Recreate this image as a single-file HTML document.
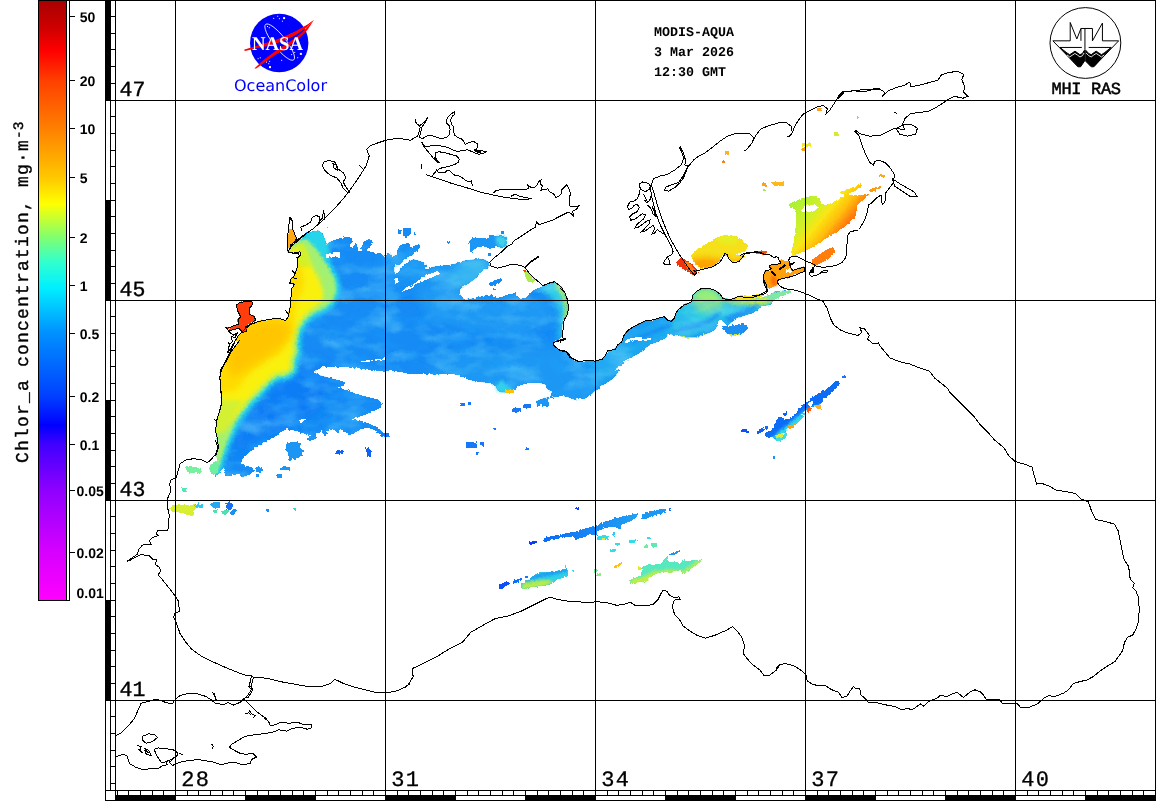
<!DOCTYPE html>
<html lang="en"><head><meta charset="utf-8"><title>MODIS-AQUA Chlor_a Black Sea</title>
<style>
html,body{margin:0;padding:0;background:#fff;}
body{width:1156px;height:801px;overflow:hidden;}
svg{display:block;}
text{font-family:"Liberation Mono",monospace;fill:#000;}
.cbl{font-family:"Liberation Sans",sans-serif;font-weight:bold;font-size:14px;}
.vlab{font-size:18px;letter-spacing:1.2px;stroke:#000;stroke-width:0.35px;}
.gl{font-size:22px;letter-spacing:1.4px;stroke:#000;stroke-width:0.3px;}
.gl2{font-size:21.5px;stroke:#000;stroke-width:0.4px;}
.hd{font-size:13.33px;font-weight:bold;}
.oc{font-family:"DejaVu Sans","Liberation Sans",sans-serif;font-size:16px;fill:#0000ff;}
.mhi{font-size:17px;stroke:#000;stroke-width:0.5px;}
</style></head>
<body>
<svg width="1156" height="801" viewBox="0 0 1156 801" shape-rendering="crispEdges" text-rendering="geometricPrecision">
<rect x="0" y="0" width="1156" height="801" fill="#fff"/>
<defs><filter id="rag" x="0" y="0" width="1156" height="801" filterUnits="userSpaceOnUse"><feTurbulence type="fractalNoise" baseFrequency="0.35" numOctaves="2" seed="7" result="n"/><feDisplacementMap in="SourceGraphic" in2="n" scale="3" xChannelSelector="R" yChannelSelector="G"/></filter></defs>
<g id="chl" filter="url(#rag)">
<defs><clipPath id="cpMain"><path d="M306.1 232.7 L310.5 231.9 L317.5 230.1 L322.7 233.6 L325.3 239.7 L326.2 245 L328.8 242.3 L333.2 240.6 L337.6 238.8 L345.5 237.1 L352.4 238 L352.4 242.3 L349 245 L352.4 247.6 L355.1 244.1 L357.7 246.7 L358.6 251.1 L362.1 252 L361.2 247.6 L363.8 241.5 L369.1 238.8 L372.6 240.6 L371.7 245 L368.2 248.5 L366.4 251.1 L373.4 252 L376.9 253.7 L380.4 252 L382.2 254.6 L385.7 256.3 L387.4 252.8 L390.9 253.7 L392.7 256.3 L397 254.6 L397.9 248.5 L401.4 244.1 L406.6 242.3 L409.3 244.1 L410.1 247.6 L414.5 245.8 L418.9 244.1 L420.3 246.7 L417.1 251.1 L411.9 254.6 L406.6 258.1 L403.1 261.6 L399.7 265.1 L394.4 265.6 L394.4 272.9 L398.8 273.3 L400.5 267.7 L404.9 264.2 L410.1 260.7 L413.6 259.3 L418.9 260.7 L424.1 262.4 L426.7 265.1 L425 269.4 L427.6 269.4 L432.9 266.8 L439.9 265.9 L448.6 265.1 L453.8 264.2 L462.6 261 L471.3 259.8 L478.3 259 L485.3 259.8 L488.8 262.4 L489.7 265.9 L487.2 269 L482.8 270.7 L479.3 273.3 L477.6 276.8 L473.2 280.3 L468 283.8 L462.7 287.3 L459.6 289.1 L460.1 294.3 L463.6 298.7 L466.2 299.9 L475 297.8 L483.7 296 L491.6 294.3 L492.4 296.9 L499.4 297.8 L509.9 294.3 L515.2 293.1 L517.8 296.9 L520.4 298.7 L525.7 297.8 L529.2 294.3 L532.7 290.8 L537.9 288.2 L543.1 286.4 L547.5 283.8 L551.9 281.5 L555.4 282.1 L559.8 285.6 L563.3 289.9 L565.9 295.2 L567.3 302.2 L568 308.3 L567.3 313.5 L565.5 317 L563.3 320.5 L562.4 324.9 L562 331.9 L562.4 336.3 L560.6 338.9 L553.6 342.4 L553.6 345 L556.3 347.6 L559.8 350.2 L565.9 351.1 L569.4 354.6 L571.1 358.1 L575.5 360 L575.9 360.2 L579.1 361.7 L587.6 360.2 L595 361.2 L602.4 359.1 L605.6 354.9 L607.7 350.6 L615.2 349.6 L617.3 345.3 L621.5 342.1 L623.7 335.8 L627.9 330.5 L634.3 326.2 L644.9 320.9 L653.4 319.9 L659.7 317.7 L664 316.7 L667.2 319.9 L671.4 321.4 L674.6 317.7 L676.3 312.4 L678.8 309.3 L684.1 305 L688.4 303.5 L691.6 301.8 L692.6 295.5 L696.9 291.2 L702.2 288 L708.5 288 L714.9 290.2 L720.2 294.4 L723 298.6 L727.6 299.7 L734 298.6 L738.2 296.5 L744.6 297.2 L752 297.6 L757.3 298.6 L763.7 297.6 L770.1 294.4 L776.4 291.2 L787.1 290.2 L790.9 291.2 L784.9 293.3 L776.4 296.5 L770.1 299.7 L773.3 301.8 L770.1 305 L761.6 306.1 L757.3 310.3 L751 313.5 L744.6 315.6 L738.2 317.7 L731.9 322 L727.6 325.6 L722.3 320.9 L718.1 322 L716 328.4 L712.8 331.5 L704.3 334.7 L695.8 337.9 L687.3 337.9 L678.8 335.8 L668.2 333.7 L666.1 337.9 L659.7 341.1 L651.2 344.3 L644.9 348.5 L638.5 353.8 L627.9 359.1 L621.5 364.4 L614.7 369.7 L620 370.3 L615.5 375.6 L611.3 379.9 L604.9 384.1 L599.6 386.2 L599.6 389.4 L595.4 390.5 L592.2 393.7 L584.8 399 L579.5 397.9 L575.2 400 L566.7 396.8 L560.4 395.8 L551.9 397.9 L547.6 396.8 L541.3 399 L536 401.1 L537 406.4 L541.3 405.3 L547.6 406.8 L549.8 405.3 L547.6 400 L550.8 395.8 L551.9 391.5 L547.6 389.4 L545.5 384.1 L539.2 383.1 L528.5 383.1 L520.1 385.2 L513.7 389.4 L505.2 392.6 L497.8 391.5 L495.6 386.2 L490.3 383.1 L479.7 382 L469.1 379.9 L460.6 375.6 L450 373.5 L435.2 374.6 L422.4 373.5 L411.8 374.6 L401.2 372.4 L390.6 370.3 L380 371.4 L361 368.6 L339.8 366.5 L322.8 367.2 L313.2 371.4 L318.5 375 L329.2 377.8 L339.8 380.3 L345.1 382.4 L344 385.6 L337.6 387.7 L346.1 389.9 L356.7 394.1 L367.3 396.9 L378 399.4 L382.2 403.7 L380.1 407.9 L371.6 412.1 L361 416.4 L351.4 419.6 L361 420.6 L369.5 423.8 L376.9 427 L382.2 432.3 L388.6 433.4 L388.6 436.6 L382.2 436.6 L379 433.4 L373.7 429.1 L367.3 428.1 L361 429.1 L354.6 433.4 L348.2 435.5 L347.2 432.3 L339.8 429.1 L337.6 433.4 L333.4 429.1 L327 431.2 L326 436.6 L321.7 431.2 L316.4 433.4 L316.4 438.7 L310.1 440.8 L305.8 438.7 L310.1 436.6 L305.8 434.4 L299.4 432.3 L293.1 430.2 L286.7 429.1 L280.3 432.3 L274 437.6 L265.5 441.9 L257 446.1 L250.6 451.4 L244.3 456.7 L240 462 L246.4 466.3 L252.8 467.3 L253.8 471.6 L248.5 474.7 L243.2 477.9 L237.9 473.7 L231.5 475.8 L225.2 475.8 L224.7 470.5 L223.1 467.3 L220.9 472.6 L215.6 475.8 L211.4 473.7 L209.3 468.4 L211.4 463.1 L215.6 462 L217.7 458.8 L215.6 455.6 L218.4 448.2 L217.7 439.7 L215.6 431.2 L216.7 420.6 L219.9 410 L222 401.5 L220.5 388.8 L219.9 378.2 L220.5 369.7 L226.2 361.2 L230.5 352.7 L235.8 345.3 L240 340 L234.9 341.4 L238.8 335 L244 329.8 L250.5 324.6 L258.2 321.5 L268.6 319.4 L279 318.1 L285.5 320.7 L288.1 316.8 L289.9 309 L290.7 299.9 L292 288.2 L294.6 284.3 L289.9 283.1 L290.7 279.2 L294.6 275.3 L297.2 267.5 L297.7 258.4 L301.1 255 L299.8 251.9 L293.3 253.2 L288.1 251.9 L290.7 247.2 L299.8 238.9 L311.4 229.8Z"/></clipPath>
<filter id="b1_5" x="-30%" y="-30%" width="160%" height="160%"><feGaussianBlur stdDeviation="1.5"/></filter>
<filter id="b2" x="-30%" y="-30%" width="160%" height="160%"><feGaussianBlur stdDeviation="2"/></filter>
<filter id="b3" x="-30%" y="-30%" width="160%" height="160%"><feGaussianBlur stdDeviation="3"/></filter>
<filter id="b4" x="-30%" y="-30%" width="160%" height="160%"><feGaussianBlur stdDeviation="4"/></filter>
<filter id="b5" x="-30%" y="-30%" width="160%" height="160%"><feGaussianBlur stdDeviation="5"/></filter>
<filter id="b7" x="-30%" y="-30%" width="160%" height="160%"><feGaussianBlur stdDeviation="7"/></filter>
<filter id="sw" x="180" y="220" width="640" height="270" filterUnits="userSpaceOnUse"><feTurbulence type="fractalNoise" baseFrequency="0.03 0.06" numOctaves="3" seed="11"/><feColorMatrix type="matrix" values="0 0 0 0 0.2  0 0 0 0 0.75  0 0 0 0 0.95  2.6 0 0 0 -1.15"/></filter>
<filter id="sw2" x="180" y="220" width="640" height="270" filterUnits="userSpaceOnUse"><feTurbulence type="fractalNoise" baseFrequency="0.04 0.07" numOctaves="3" seed="23"/><feColorMatrix type="matrix" values="0 0 0 0 0.02  0 0 0 0 0.38  0 0 0 0 0.97  2.6 0 0 0 -1.2"/></filter>
<clipPath id="cpAz1"><path d="M691.2 254.9 L696.2 249.9 L702.4 246.1 L709.9 241.1 L717.4 237.4 L726.2 234.4 L736.2 236.2 L742.4 239.9 L747.4 246.1 L747.4 251.1 L739.9 252.4 L734.9 254.9 L744.9 254.9 L741.2 259.9 L734.9 262.4 L729.9 259.9 L726.2 256.1 L722.4 254.9 L721.2 258.6 L717.4 263.6 L709.9 267.4 L702.4 268.6 L697.4 266.1 L693.7 261.1Z"/></clipPath>
<clipPath id="cpPl"><path d="M788.6 203.7 L794.9 201.2 L804.9 197.4 L814.8 195.4 L819.8 197.4 L821.1 203.7 L826.1 204.9 L837.3 199.9 L844.8 196.2 L839.8 192.4 L852.3 187.4 L862.3 183.7 L862.3 186.2 L854.8 191.2 L848.6 194.9 L859.8 195.4 L868.5 193.7 L864.8 198.7 L857.3 204.9 L856.1 214.9 L848.6 223.7 L839.8 229.9 L829.8 236.2 L819.8 242.4 L812.3 247.4 L802.4 252.4 L792.4 256.1 L791.1 252.4 L793.6 242.4 L795.4 229.9 L796.1 214.9 L794.9 208.7 L789.9 207.4Z"/></clipPath>
<linearGradient id="gPl" gradientUnits="userSpaceOnUse" x1="790" y1="210" x2="845" y2="255"><stop offset="0" stop-color="#aef034"/><stop offset="0.28" stop-color="#d2f028"/><stop offset="0.42" stop-color="#fae614"/><stop offset="0.58" stop-color="#ffbe0a"/><stop offset="0.74" stop-color="#ff780a"/></linearGradient>
<clipPath id="cpD1"><path d="M764.6 433.4 L768.5 431.5 L773.8 428.2 L774.4 422.9 L777.7 417.7 L781.6 417 L784.2 419.7 L788.2 419 L793.4 415.1 L797.4 412.4 L798.7 408.5 L802.6 405.2 L806.5 402 L809.2 398.7 L814.4 396.1 L819.6 392.8 L822.3 390.2 L824.9 390.8 L828.8 388.2 L832.8 383.6 L836.7 380.3 L839.1 381.6 L838.7 386.2 L835.4 389.5 L831.4 393.4 L828.8 395.4 L824.9 397.4 L822.3 402 L819.6 405.2 L814.4 406.5 L810.5 407.2 L807.8 409.8 L803.9 411.8 L801.3 416.4 L798.7 420.3 L793.4 424.2 L788.2 428.2 L784.2 433.4 L779 437.4 L775.1 438.7 L771.1 438 L765.9 436.7Z"/></clipPath>
<linearGradient id="gE1" x1="0" y1="0" x2="1" y2="0"><stop offset="0" stop-color="#0c6cf6"/><stop offset="1" stop-color="#22a0f2"/></linearGradient>
<clipPath id="cpE2"><path d="M521.4 583.7 L528.1 579.9 L533.8 575.2 L539.5 572.3 L547.1 572.3 L554.7 571.4 L562.3 569.5 L567.6 568.9 L567.6 576.1 L562.3 578 L556.6 579.9 L552.8 583.7 L545.2 585.6 L537.6 586.6 L530 587.5 L525.2 589.4 L521.4 588.5Z"/></clipPath>
<clipPath id="cpE5"><path d="M629.9 579.9 L634.6 578 L640.3 575.2 L642.3 572.3 L641.3 567.6 L644.2 565.7 L653.7 564.7 L662.2 562.8 L664.1 559 L667.9 556.7 L667 560.9 L672.7 561.9 L680.3 562.8 L684.1 559 L686 560.9 L691.7 560.5 L697.4 559.9 L701.6 559.4 L701.2 561.9 L695.5 565.7 L689.8 569.5 L684.1 574.2 L681.3 573.3 L680.3 570.4 L672.7 571.4 L665.1 572.3 L657.5 573.3 L651.8 576.1 L648 579.9 L645.1 582.8 L640.3 581.8 L634.6 583.7 L630.5 583.7Z"/></clipPath></defs>
<path d="M306.1 232.7 L310.5 231.9 L317.5 230.1 L322.7 233.6 L325.3 239.7 L326.2 245 L328.8 242.3 L333.2 240.6 L337.6 238.8 L345.5 237.1 L352.4 238 L352.4 242.3 L349 245 L352.4 247.6 L355.1 244.1 L357.7 246.7 L358.6 251.1 L362.1 252 L361.2 247.6 L363.8 241.5 L369.1 238.8 L372.6 240.6 L371.7 245 L368.2 248.5 L366.4 251.1 L373.4 252 L376.9 253.7 L380.4 252 L382.2 254.6 L385.7 256.3 L387.4 252.8 L390.9 253.7 L392.7 256.3 L397 254.6 L397.9 248.5 L401.4 244.1 L406.6 242.3 L409.3 244.1 L410.1 247.6 L414.5 245.8 L418.9 244.1 L420.3 246.7 L417.1 251.1 L411.9 254.6 L406.6 258.1 L403.1 261.6 L399.7 265.1 L394.4 265.6 L394.4 272.9 L398.8 273.3 L400.5 267.7 L404.9 264.2 L410.1 260.7 L413.6 259.3 L418.9 260.7 L424.1 262.4 L426.7 265.1 L425 269.4 L427.6 269.4 L432.9 266.8 L439.9 265.9 L448.6 265.1 L453.8 264.2 L462.6 261 L471.3 259.8 L478.3 259 L485.3 259.8 L488.8 262.4 L489.7 265.9 L487.2 269 L482.8 270.7 L479.3 273.3 L477.6 276.8 L473.2 280.3 L468 283.8 L462.7 287.3 L459.6 289.1 L460.1 294.3 L463.6 298.7 L466.2 299.9 L475 297.8 L483.7 296 L491.6 294.3 L492.4 296.9 L499.4 297.8 L509.9 294.3 L515.2 293.1 L517.8 296.9 L520.4 298.7 L525.7 297.8 L529.2 294.3 L532.7 290.8 L537.9 288.2 L543.1 286.4 L547.5 283.8 L551.9 281.5 L555.4 282.1 L559.8 285.6 L563.3 289.9 L565.9 295.2 L567.3 302.2 L568 308.3 L567.3 313.5 L565.5 317 L563.3 320.5 L562.4 324.9 L562 331.9 L562.4 336.3 L560.6 338.9 L553.6 342.4 L553.6 345 L556.3 347.6 L559.8 350.2 L565.9 351.1 L569.4 354.6 L571.1 358.1 L575.5 360 L575.9 360.2 L579.1 361.7 L587.6 360.2 L595 361.2 L602.4 359.1 L605.6 354.9 L607.7 350.6 L615.2 349.6 L617.3 345.3 L621.5 342.1 L623.7 335.8 L627.9 330.5 L634.3 326.2 L644.9 320.9 L653.4 319.9 L659.7 317.7 L664 316.7 L667.2 319.9 L671.4 321.4 L674.6 317.7 L676.3 312.4 L678.8 309.3 L684.1 305 L688.4 303.5 L691.6 301.8 L692.6 295.5 L696.9 291.2 L702.2 288 L708.5 288 L714.9 290.2 L720.2 294.4 L723 298.6 L727.6 299.7 L734 298.6 L738.2 296.5 L744.6 297.2 L752 297.6 L757.3 298.6 L763.7 297.6 L770.1 294.4 L776.4 291.2 L787.1 290.2 L790.9 291.2 L784.9 293.3 L776.4 296.5 L770.1 299.7 L773.3 301.8 L770.1 305 L761.6 306.1 L757.3 310.3 L751 313.5 L744.6 315.6 L738.2 317.7 L731.9 322 L727.6 325.6 L722.3 320.9 L718.1 322 L716 328.4 L712.8 331.5 L704.3 334.7 L695.8 337.9 L687.3 337.9 L678.8 335.8 L668.2 333.7 L666.1 337.9 L659.7 341.1 L651.2 344.3 L644.9 348.5 L638.5 353.8 L627.9 359.1 L621.5 364.4 L614.7 369.7 L620 370.3 L615.5 375.6 L611.3 379.9 L604.9 384.1 L599.6 386.2 L599.6 389.4 L595.4 390.5 L592.2 393.7 L584.8 399 L579.5 397.9 L575.2 400 L566.7 396.8 L560.4 395.8 L551.9 397.9 L547.6 396.8 L541.3 399 L536 401.1 L537 406.4 L541.3 405.3 L547.6 406.8 L549.8 405.3 L547.6 400 L550.8 395.8 L551.9 391.5 L547.6 389.4 L545.5 384.1 L539.2 383.1 L528.5 383.1 L520.1 385.2 L513.7 389.4 L505.2 392.6 L497.8 391.5 L495.6 386.2 L490.3 383.1 L479.7 382 L469.1 379.9 L460.6 375.6 L450 373.5 L435.2 374.6 L422.4 373.5 L411.8 374.6 L401.2 372.4 L390.6 370.3 L380 371.4 L361 368.6 L339.8 366.5 L322.8 367.2 L313.2 371.4 L318.5 375 L329.2 377.8 L339.8 380.3 L345.1 382.4 L344 385.6 L337.6 387.7 L346.1 389.9 L356.7 394.1 L367.3 396.9 L378 399.4 L382.2 403.7 L380.1 407.9 L371.6 412.1 L361 416.4 L351.4 419.6 L361 420.6 L369.5 423.8 L376.9 427 L382.2 432.3 L388.6 433.4 L388.6 436.6 L382.2 436.6 L379 433.4 L373.7 429.1 L367.3 428.1 L361 429.1 L354.6 433.4 L348.2 435.5 L347.2 432.3 L339.8 429.1 L337.6 433.4 L333.4 429.1 L327 431.2 L326 436.6 L321.7 431.2 L316.4 433.4 L316.4 438.7 L310.1 440.8 L305.8 438.7 L310.1 436.6 L305.8 434.4 L299.4 432.3 L293.1 430.2 L286.7 429.1 L280.3 432.3 L274 437.6 L265.5 441.9 L257 446.1 L250.6 451.4 L244.3 456.7 L240 462 L246.4 466.3 L252.8 467.3 L253.8 471.6 L248.5 474.7 L243.2 477.9 L237.9 473.7 L231.5 475.8 L225.2 475.8 L224.7 470.5 L223.1 467.3 L220.9 472.6 L215.6 475.8 L211.4 473.7 L209.3 468.4 L211.4 463.1 L215.6 462 L217.7 458.8 L215.6 455.6 L218.4 448.2 L217.7 439.7 L215.6 431.2 L216.7 420.6 L219.9 410 L222 401.5 L220.5 388.8 L219.9 378.2 L220.5 369.7 L226.2 361.2 L230.5 352.7 L235.8 345.3 L240 340 L234.9 341.4 L238.8 335 L244 329.8 L250.5 324.6 L258.2 321.5 L268.6 319.4 L279 318.1 L285.5 320.7 L288.1 316.8 L289.9 309 L290.7 299.9 L292 288.2 L294.6 284.3 L289.9 283.1 L290.7 279.2 L294.6 275.3 L297.2 267.5 L297.7 258.4 L301.1 255 L299.8 251.9 L293.3 253.2 L288.1 251.9 L290.7 247.2 L299.8 238.9 L311.4 229.8Z" fill="#138af5"/>
<g clip-path="url(#cpMain)">
<path d="M433.1 361.8 L475.5 351.2 L539.2 347 L592.2 340.6 L620 342.7 L620 400 L571 410.6 L507.3 404.3 L464.9 393.7 L422.4 385.2Z" fill="#28a4f3" filter="url(#b7)" opacity="0.55"/>
<path d="M387.4 250.2 L439.9 250.2 L500 253.7 L500 283.4 L457.3 286.9 L404.9 283.4 L383.9 267.7Z" fill="#28a4f3" filter="url(#b7)" opacity="0.6"/>
<path d="M449 275 L462 262 L478 258 L490 262 L486 274 L474 284 L458 288 L448 284Z" fill="#3cbcf0" filter="url(#b3)" opacity="0.9"/>
<path d="M412 290 L440 284 L470 292 L500 300 L540 300 L560 320 L520 335 L470 330 L430 318Z" fill="#26a0f4" filter="url(#b5)" opacity="0.7"/>
<path d="M591.8 359.1 L623.7 333.7 L666.1 312.4 L695.8 287 L793.4 287 L772.2 308.2 L729.8 333.7 L666.1 342.1 L623.7 367.6 L596.1 388.8Z" fill="#1fa8f0" filter="url(#b5)"/>
<path d="M674.6 312.4 L691.6 291.2 L708.5 287 L725.5 295.5 L751 297.2 L791.3 290.2 L772.2 306.1 L740.4 312.4 L708.5 325.2 L687.3 333.7 L670.3 333.7Z" fill="#30d8e0" filter="url(#b4)" opacity="0.75"/>
<path d="M690.5 301.8 L692.6 293.3 L702.2 287 L714.9 289.1 L723.4 298.6 L721.3 308.2 L708.5 312.4 L697.9 310.3Z" fill="#98ee78" filter="url(#b3)"/>
<path d="M723.4 298.6 L751 296.5 L772.2 293.3 L790.9 290.8 L772.2 301.8 L761.6 306.1 L742.5 305 L727.6 304Z" fill="#c4ee40" filter="url(#b2)"/>
<path d="M670.3 332 L687.3 325.6 L708.5 319.2 L718.1 312.4 L721.3 314.6 L709.6 323.1 L691.6 329.4 L674.6 333.7Z" fill="#1c8cf2" filter="url(#b1_5)" opacity="0.85"/>
<path d="M725.5 317.7 L740.4 310.7 L757.3 304 L760.5 306.5 L744.6 314.1 L729.8 322Z" fill="#1c8cf2" filter="url(#b1_5)" opacity="0.85"/>
<path d="M630 340 L649.1 331.5 L670.3 323.1 L672.5 325.6 L651.2 334.7 L632.1 343.2Z" fill="#1784f4" filter="url(#b1_5)" opacity="0.8"/>
<path d="M677.8 334.9 L687.3 337.1 L695.8 337.1 L704.7 333.7 L705.1 336.2 L695.8 339.6 L687.3 339.6 L677.8 337.1Z" fill="#d8e838" />
<path d="M537.9 288.2 L551.9 280.3 L562.4 286.4 L569.4 302.2 L568.5 317.9 L563.3 338.9 L558 340.6 L560.6 317.9 L555.4 302.2 L546.6 293.4Z" fill="#30d0e6" filter="url(#b3)"/>
<path d="M553.6 281.5 L560.6 284.3 L568.5 302.2 L568.5 315.3 L563.3 321.4 L564.1 310.9 L562.4 296.9 L556.8 288.5Z" fill="#a8ec60" filter="url(#b1_5)"/>
<path d="M297.3 361.2 L318.5 365.5 L331.3 382.4 L318.5 410 L288.8 429.1 L254.9 439.7 L233.7 458.8 L240 429.1 L259.1 403.7 L280.3 382.4Z" fill="#0a78f6" filter="url(#b7)" opacity="0.8"/>
<rect x="180" y="220" width="640" height="270" fill="#fff" filter="url(#sw)" opacity="0.42"/>
<rect x="180" y="220" width="640" height="270" fill="#fff" filter="url(#sw2)" opacity="0.4"/>
<path d="M303 226 L322 226 L329 236 L330 262 L318 258 L306 243Z" fill="#25d5ea" filter="url(#b2)"/>
<path d="M300 243 L306 243 L313 250 L318 258 L325 268 L331 279 L333 290 L329 300 L322 305 L312 310 L302 318 L295.5 329 L293 345 L294 351 L290 361 L291 368 L286 372 L275 374 L267 380 L258.5 389 L252 395.5 L246 402 L239.5 410.5 L233 419 L229 429 L225 438 L221 448 L218 457 L214 470 L190 470 L190 300 L290 250Z" fill="#25d5ea" stroke="#25d5ea" stroke-width="15" stroke-linejoin="round" filter="url(#b2)"/>
<path d="M300 243 L306 243 L313 250 L318 258 L325 268 L331 279 L333 290 L329 300 L322 305 L312 310 L302 318 L295.5 329 L293 345 L294 351 L290 361 L291 368 L286 372 L275 374 L267 380 L258.5 389 L252 395.5 L246 402 L239.5 410.5 L233 419 L229 429 L225 438 L221 448 L218 457 L214 470 L190 470 L190 300 L290 250Z" fill="#a4f070" stroke="#a4f070" stroke-width="7" stroke-linejoin="round" filter="url(#b1_5)"/>
<path d="M299 246 L302 246 L305 250 L308 258 L313 268 L319 279 L323 290 L323 299 L318 305 L310 310 L302 318 L295.5 329 L293 345 L294 351 L290 361 L291 368 L286 372 L275 374 L267 380 L258.5 389 L252 395.5 L246 402 L239.5 410.5 L234 417 L229 423 L190 428 L190 300 L290 250Z" fill="#faf00c" filter="url(#b2)"/>
<path d="M298 244 L304 246 L308 257 L311 266 L298 268Z" fill="#d2f02c" filter="url(#b1_5)"/>
<path d="M243 400 L236 412 L231 422 L226 432 L200 436 L200 400Z" fill="#d4f030" filter="url(#b2)"/>
<path d="M292 262 L301 266 L304 280 L302 292 L297 300 L294 314 L294.5 330 L288.8 340 L280.3 352.7 L269.7 359.1 L259.1 365.5 L250.6 371.8 L242.2 382.4 L237 390 L200 398 L200 330 L240 318 L285 312 L288 300 L288 262Z" fill="#ffdc00" filter="url(#b3)"/>
<path d="M240 326 L266 320 L288 322 L290 336 L276 350 L258 362 L242 372 L230 378 L226 356Z" fill="#ffc600" filter="url(#b4)"/>
</g>
<path d="M402.3 291.3 L404.9 287.8 L411.9 285.2 L418.9 279.9 L426.7 275 L437.2 271.2 L439.9 272.1 L439.9 274 L430.2 278.2 L422.4 281.3 L415.4 284.3 L411.9 288.7 L406.6 289.5 L403.1 292.2Z" fill="#ffffff" />
<path d="M394.4 278.2 L397.9 278.2 L398.3 282.6 L394.8 282.6Z" fill="#ffffff" />
<path d="M325.3 254.6 L330.6 252.8 L337.6 252 L341.1 254.6 L339.3 258.1 L335.8 256.3 L326.2 258.1Z" fill="#ffffff" />
<path d="M623.7 341.1 L632.1 337.9 L641.7 336.8 L643.8 339 L651.2 337.9 L650.2 340 L642.8 341.1 L634.3 340 L625.8 343.2Z" fill="#ffffff" />
<path d="M298.4 420.6 L304.7 418.1 L305.8 419.6 L300.5 422.8Z" fill="#ffffff" />
<path d="M361 361.2 L385.4 358.2 L385.4 359.5 L362 362.3Z" fill="#ffffff" />
<path d="M351.4 418.9 L361 417.9 L361 418.7 L352.1 419.8Z" fill="#ffffff" />
<path d="M718.1 322 L721.3 319.9 L723.4 323.1 L722.3 328.4 L719.2 329.4 L716.6 328.4Z" fill="#ffffff" />
<rect x="397.9" y="230.1" width="3.5" height="3.5" fill="#138af5"/>
<rect x="403.1" y="228.4" width="7.9" height="6.1" fill="#138af5"/>
<rect x="404.5" y="235.3" width="2.5" height="2.7" fill="#138af5"/>
<rect x="413.6" y="231" width="2.1" height="2.6" fill="#138af5"/>
<rect x="447.7" y="240.6" width="2.3" height="2.6" fill="#138af5"/>
<rect x="326.2" y="226.6" width="2.6" height="1.8" fill="#25d5ea"/>
<path d="M468.8 241 L472.3 238.4 L482 237.5 L488.1 238.4 L489.8 234.9 L495.9 235.7 L501.2 234.9 L505.6 237.5 L507.3 242.7 L505.6 246.2 L501.2 248 L495.9 246.2 L492.4 248.8 L487.2 248 L482 246.2 L475 248 L472.3 252.3 L469.4 252.3 L470.6 247.1Z" fill="#1c96f4" />
<path d="M495.9 236.6 L501.2 235.4 L505.6 237.5 L507.3 242.7 L505.6 246.2 L501.2 247.6 L496.8 244.5Z" fill="#40d0e8" filter="url(#b1_5)"/>
<rect x="447" y="240.6" width="2.6" height="3" fill="#138af5"/>
<rect x="501.2" y="231.4" width="2.6" height="2.2" fill="#138af5"/>
<rect x="488.1" y="253.2" width="2.6" height="2.6" fill="#138af5"/>
<path d="M489 282.9 L492.4 281.2 L497.7 279.4 L502.1 279.4 L502.6 281.2 L497.7 283.8 L492.4 285.6 L489.8 285.6Z" fill="#138af5" />
<rect x="493.3" y="288.2" width="1.8" height="1.7" fill="#138af5"/>
<path d="M523.6 269.8 L526.5 270.7 L530.9 275.1 L535.3 280.3 L535.8 282.6 L530.9 282.1 L526.5 280.3 L525.3 275.9Z" fill="#b0ec50" />
<rect x="523.9" y="269.8" width="2.1" height="2.1" fill="#ff3c00"/>
<path d="M722.3 328.4 L727.6 333.7 L731.9 336.8 L740.4 334.7 L746.7 330.5 L747.8 325.6 L742.5 324.1 L736.1 324.7 L729.8 326.2 L723.4 325.6Z" fill="#1a90f2" />
<path d="M727.6 333.7 L731.9 336.8 L740.4 334.7 L740.4 333.2 L732.9 334.7Z" fill="#c8f03c" />
<path d="M495.6 385.6 L502 379.9 L507.3 385.6 L513.7 389.4 L505.2 392.6 L497.8 391.5Z" fill="#30d0ea" filter="url(#b1_5)"/>
<rect x="505.2" y="390.1" width="8.5" height="2.5" fill="#ffc200"/>
<rect x="459.6" y="403.2" width="5.3" height="3.2" fill="#1478f6"/>
<rect x="468.1" y="402.1" width="3.1" height="2.6" fill="#1478f6"/>
<rect x="511.6" y="408.1" width="9.5" height="3.6" fill="#1478f6"/>
<rect x="523.2" y="403.8" width="7.9" height="4.3" fill="#1478f6"/>
<rect x="492.9" y="427.6" width="3.2" height="2.1" fill="#1478f6"/>
<rect x="465.9" y="442" width="11.3" height="6.4" fill="#1478f6"/>
<rect x="479.7" y="442" width="4.3" height="3.6" fill="#1478f6"/>
<rect x="475.5" y="452" width="2.5" height="2.8" fill="#1478f6"/>
<rect x="526.4" y="447.8" width="2.6" height="2.3" fill="#1478f6"/>
<rect x="380" y="432.9" width="8.5" height="3.2" fill="#1478f6"/>
<path d="M286.7 441.9 L299.4 441.9 L300.5 448.2 L303.7 450.3 L301.6 455.6 L295.2 458.8 L287.8 460.5 L288.8 455.6 L285.6 449.3Z" fill="#1c96f4" />
<rect x="280.3" y="467.3" width="9.6" height="2.6" fill="#1c96f4"/>
<rect x="277.2" y="473.7" width="4.8" height="3.8" fill="#1c96f4"/>
<rect x="255.9" y="467.3" width="5.8" height="4.7" fill="#1c96f4"/>
<rect x="255.9" y="473.7" width="2.8" height="3.2" fill="#1c96f4"/>
<rect x="335.5" y="450.3" width="7.4" height="3.2" fill="#0a62f8"/>
<path d="M365.2 447.2 L369.5 447.2 L371.6 452.5 L370.5 457.8 L367.3 455.6Z" fill="#0a62f8" />
<path d="M184.9 467.3 L191.2 466.3 L197.6 467.3 L201.8 471.6 L199.7 474.1 L193.3 472.6 L188 472.6Z" fill="#78f0a0" />
<rect x="181.9" y="487.7" width="4.2" height="4.2" fill="#50e8b0"/>
<path d="M209.3 468.4 L211.4 463.1 L215.6 461.4 L218.4 464.1 L217.7 472.6 L213.5 475.4 L210.7 473.3Z" fill="#70eea0" />
<path d="M169.3 509.5 L172.5 505.4 L178.7 504.4 L187 505.4 L194.3 504.4 L198.4 503.3 L203.6 504.8 L202.6 507.5 L196.3 508.5 L193.2 511.6 L194.3 514.7 L191.1 516.4 L184.9 513.7 L178.7 512.7 L172.5 511.6Z" fill="#d8ee30" />
<path d="M194.3 504.4 L198.4 503.3 L203.6 504.8 L202.6 507.5 L196.3 508.5Z" fill="#30c8ee" />
<path d="M209.8 504.4 L214 501.9 L220.2 501.9 L220.2 507.5 L216.1 508.5 L211.9 506.9Z" fill="#28a8f0" />
<rect x="212.9" y="509.5" width="3.6" height="3.2" fill="#50e0b0"/>
<path d="M225.4 503.3 L229.5 501.9 L232.7 504.4 L232.2 508.5 L228.5 509.5 L226 507.5Z" fill="#1470f6" />
<path d="M221.2 511.6 L226.4 508.5 L229.5 510.6 L225.4 514.7 L222.3 514.3Z" fill="#50e0b0" />
<path d="M229.5 512.7 L234.7 508.5 L236.8 510.6 L232.7 516.4Z" fill="#1c90f2" />
<rect x="265.9" y="508.9" width="3.1" height="2.7" fill="#138af5"/>
<rect x="292.9" y="507.7" width="3.1" height="2.1" fill="#25d5ea"/>
<path d="M691.2 254.9 L696.2 249.9 L702.4 246.1 L709.9 241.1 L717.4 237.4 L726.2 234.4 L736.2 236.2 L742.4 239.9 L747.4 246.1 L747.4 251.1 L739.9 252.4 L734.9 254.9 L744.9 254.9 L741.2 259.9 L734.9 262.4 L729.9 259.9 L726.2 256.1 L722.4 254.9 L721.2 258.6 L717.4 263.6 L709.9 267.4 L702.4 268.6 L697.4 266.1 L693.7 261.1Z" fill="#f6e01a" />
<g clip-path="url(#cpAz1)">
<path d="M690 259.9 L704.9 257.4 L722.4 259.9 L726.2 256.1 L729.9 259.9 L734.9 262.4 L744.9 256.1 L747.4 269.9 L690 272.4Z" fill="#ffa000" filter="url(#b3)"/>
<path d="M714.9 236.2 L726.2 233.7 L739.9 237.4 L734.9 243.6 L719.9 242.4Z" fill="#e4f028" filter="url(#b2)"/>
</g>
<path d="M676.2 262.4 L681.2 257.9 L688.7 261.1 L696.2 268.6 L697.9 272.9 L695 276.1 L688.7 272.9 L681.2 267.9 L677 265.4Z" fill="#f03208" />
<path d="M683.7 261.1 L688.7 262.4 L695.5 269.9 L693.7 272.9 L687.5 268.6Z" fill="#ff7a10" />
<rect x="756.1" y="251.1" width="10" height="3.3" fill="#ff5010"/>
<path d="M764.4 272.6 L766 270.5 L769.1 270 L771.1 268.4 L769.1 266.9 L769.6 265.3 L772.2 264.8 L776.3 264.3 L780 263.7 L780.5 262.2 L779.4 260.1 L781.5 259.1 L784.6 261.1 L787.8 260.6 L788.8 260.1 L789.3 263.2 L790.3 266.3 L791.4 268.9 L792.9 270.5 L796.1 269.4 L802.3 267.6 L804.9 267.4 L804.6 271.5 L801.2 272.6 L798.1 274.1 L794 275.7 L788.8 277.2 L783.6 278.3 L779.4 279.3 L777.6 280.9 L776.9 285 L774.3 286.6 L770.1 288.7 L767 288.1 L764.9 286.1 L764.1 282.9 L763.4 279.8 L763.7 275.7Z" fill="#ffa008" />
<path d="M771.1 277.8 L775.8 275.7 L776.9 285 L774.3 286.6 L771.1 284Z" fill="#ff6a10" filter="url(#b1_5)"/>
<path d="M785.7 269.4 L789.8 268.4 L791.9 271.5 L788.8 273.6 L785.7 272.6Z" fill="#ffffff" />
<path d="M788.6 203.7 L794.9 201.2 L804.9 197.4 L814.8 195.4 L819.8 197.4 L821.1 203.7 L826.1 204.9 L837.3 199.9 L844.8 196.2 L839.8 192.4 L852.3 187.4 L862.3 183.7 L862.3 186.2 L854.8 191.2 L848.6 194.9 L859.8 195.4 L868.5 193.7 L864.8 198.7 L857.3 204.9 L856.1 214.9 L848.6 223.7 L839.8 229.9 L829.8 236.2 L819.8 242.4 L812.3 247.4 L802.4 252.4 L792.4 256.1 L791.1 252.4 L793.6 242.4 L795.4 229.9 L796.1 214.9 L794.9 208.7 L789.9 207.4Z" fill="url(#gPl)" />
<path d="M799.9 211.2 L806.1 204.9 L814.8 204.9 L818.6 207.4 L814.8 211.2 L806.1 212.4Z" fill="#ffffff" />
<path d="M869.3 189.9 L876 186.9 L881.8 185.5 L881 187.9 L874.8 191.2 L869.8 192.4Z" fill="#ff9a10" />
<rect x="878.5" y="174.5" width="6.3" height="2.5" fill="#ffa818"/>
<path d="M811.1 261.1 L814.7 258 L818.9 254.9 L824.1 251.3 L829.3 248.2 L833.4 247.1 L834.5 250.8 L832.4 254.9 L828.2 259.1 L823 262.2 L817.9 264.8 L813.7 264.3Z" fill="#ff7c0c" />
<rect x="762.4" y="182.5" width="3.7" height="4.9" fill="#ffa018"/>
<rect x="762.9" y="188.9" width="3.5" height="2.3" fill="#a0ec50"/>
<path d="M771.1 181.2 L783.6 182.5 L783.6 185.5 L776.1 186.2 L771.9 184.5Z" fill="#ffb818" />
<rect x="724.9" y="151.2" width="4.5" height="3.8" fill="#ffb020"/>
<rect x="721.9" y="160" width="3" height="2.5" fill="#ff8010"/>
<rect x="801.9" y="142.5" width="9.2" height="3.7" fill="#f0e820"/>
<rect x="802.4" y="148" width="3" height="3.2" fill="#ffa010"/>
<rect x="833.6" y="132" width="4.2" height="3.5" fill="#e8e828"/>
<path d="M733.7 297.8 L739.9 295.4 L749.9 296.1 L759.9 293.6 L764.9 294.9 L759.9 297.8 L749.9 299.8 L737.4 300.3Z" fill="#f4e020" />
<path d="M764.9 297.3 L774.9 292.4 L789.9 289.9 L791.1 292.4 L779.9 297.3 L769.9 302.3Z" fill="#80e8a0" />
<rect x="817.3" y="107.5" width="5" height="3.2" fill="#ffa020"/>
<rect x="856" y="116.9" width="2" height="2.5" fill="#ffb020"/>
<rect x="833.5" y="131.9" width="4.3" height="3.5" fill="#d8e830"/>
<path d="M764.6 433.4 L768.5 431.5 L773.8 428.2 L774.4 422.9 L777.7 417.7 L781.6 417 L784.2 419.7 L788.2 419 L793.4 415.1 L797.4 412.4 L798.7 408.5 L802.6 405.2 L806.5 402 L809.2 398.7 L814.4 396.1 L819.6 392.8 L822.3 390.2 L824.9 390.8 L828.8 388.2 L832.8 383.6 L836.7 380.3 L839.1 381.6 L838.7 386.2 L835.4 389.5 L831.4 393.4 L828.8 395.4 L824.9 397.4 L822.3 402 L819.6 405.2 L814.4 406.5 L810.5 407.2 L807.8 409.8 L803.9 411.8 L801.3 416.4 L798.7 420.3 L793.4 424.2 L788.2 428.2 L784.2 433.4 L779 437.4 L775.1 438.7 L771.1 438 L765.9 436.7Z" fill="#0c6cf6" />
<g clip-path="url(#cpD1)">
<path d="M771.1 438.7 L779 431.5 L788.2 424.2 L796 417.7 L803.9 411.1 L810.5 407.2 L821 405.2 L823.6 399.3 L822.3 409.8 L803.9 417.7 L788.2 433.4 L777.7 441.3Z" fill="#30d8e8" filter="url(#b1_5)"/>
<path d="M775.1 435.4 L785.6 433.4 L786.2 437.4 L776.4 438.7Z" fill="#d0ec40" />
<path d="M787.5 425.6 L793.4 424.2 L794.1 428.2 L788.2 428.8Z" fill="#ffa010" />
<path d="M806.5 409.2 L810.5 407.2 L811.1 411.1 L807.6 411.8Z" fill="#ff5010" />
<path d="M814.4 405.2 L821 405.2 L821 408.2 L815.1 407.9Z" fill="#ffb020" />
</g>
<path d="M809.2 402 L811.8 400.6 L813.7 402 L811.8 405.2 L809.2 405.9Z" fill="#ffffff" />
<path d="M775.7 438.4 L779.7 437.4 L785.6 433.4 L787.1 435.8 L784.2 438.7 L779 441.6 L776.4 440.2Z" fill="#40dce0" />
<path d="M777.7 434.5 L782.9 433.4 L784.2 436 L779 437.6Z" fill="#d8ec40" />
<path d="M788.2 425.6 L793.7 424 L794.2 427.5 L788.8 429Z" fill="#ffa010" />
<path d="M806.8 409.6 L810.5 407.5 L811 410.9 L807.6 411.9Z" fill="#ff5a10" />
<path d="M814.7 405.5 L821 405.2 L821.2 408.5 L819.1 408.8 L815.2 407.5Z" fill="#ffae20" />
<path d="M793.4 422.9 L798.7 419.7 L801.9 415.7 L803.9 412.4 L805.2 413.8 L802.6 418.3 L798.7 422.3 L794.7 424.9Z" fill="#38d4e8" />
<path d="M741 430.1 L743.6 428.8 L746.2 430.8 L748.8 431.5 L748.6 433.4 L745.6 432.4 L741.6 431.9Z" fill="#0a50f8" />
<path d="M756.1 432.1 L758.7 430.8 L762 428.2 L763.9 428.8 L762.6 431.5 L759.3 433.4 L757 434.5Z" fill="#0c60f6" />
<rect x="764.6" y="426.2" width="3.3" height="3.9" fill="#0c6cf6"/>
<path d="M784.2 412.4 L786.2 411.1 L787.5 412.4 L786.2 416.4 L784.5 415.7Z" fill="#0c60f6" />
<rect x="842.2" y="375.1" width="3.7" height="2.6" fill="#1478f6"/>
<rect x="772.7" y="456.1" width="2.4" height="2.9" fill="#1c90f4"/>
<path d="M543.3 539 L547.1 537.1 L556.6 535.2 L566.1 533.3 L575.6 531.4 L585.2 528.5 L594.7 525.7 L604.2 521.9 L613.7 519 L623.2 516.2 L632.7 514.3 L638.4 513.3 L638.4 516.2 L632.7 520 L627 522.8 L621.3 524.7 L621.3 528.5 L617.5 528.5 L613.7 526.6 L604.2 528.5 L596.6 531.4 L596.6 535.2 L589 534.3 L585.2 537.1 L579.4 538.1 L575.6 540 L573.7 537.1 L566.1 537.1 L558.5 539 L550.9 540 L545.2 541.9Z" fill="url(#gE1)" />
<path d="M641.3 516.2 L645.1 512.4 L653.7 510.5 L661.3 509.1 L666 509.5 L665.1 512.4 L657.5 514.3 L651.8 516.2 L646.1 519 L642.3 519.4Z" fill="#1c98f2" />
<path d="M530 542.2 L533.8 540.9 L537.6 540.9 L536.6 543.4 L530.9 544.7Z" fill="#0a3cf8" />
<rect x="576" y="507.2" width="2.9" height="2.7" fill="#0a3cf8"/>
<rect x="668.5" y="508" width="2.3" height="2.5" fill="#1470f6"/>
<path d="M596.6 536.2 L604.2 535.2 L609.5 536.5 L608.9 540 L602.3 540.3 L597.5 540Z" fill="#30dce8" />
<rect x="602.3" y="537.7" width="2.5" height="1.9" fill="#e8e830"/>
<rect x="610.3" y="549.1" width="5.7" height="2.7" fill="#30dce8"/>
<rect x="614.7" y="543.4" width="5.7" height="1.9" fill="#30dce8"/>
<rect x="628.9" y="540" width="5.7" height="2.8" fill="#30dce8"/>
<rect x="636.5" y="540" width="2.3" height="1.9" fill="#30dce8"/>
<rect x="644.2" y="544.7" width="3.8" height="2.9" fill="#70eca0"/>
<rect x="647" y="537.1" width="3.8" height="1.5" fill="#30dce8"/>
<rect x="613.3" y="532" width="1.9" height="4.2" fill="#30c8ee"/>
<path d="M650.8 542.8 L656.5 542.8 L657.1 547.6 L651.8 548.5Z" fill="#60e8b0" />
<path d="M499.1 585.6 L502.4 582.8 L509 581.5 L510 583.7 L505.2 586.6 L502.4 589.4 L499.5 588.5Z" fill="#0a50f8" />
<path d="M512.5 580.9 L518.5 579 L521.4 578 L522 579.9 L516.6 582.8 L512.8 583.7Z" fill="#1070f6" />
<rect x="525.2" y="576.1" width="2.9" height="1.5" fill="#1478f6"/>
<path d="M521.4 583.7 L528.1 579.9 L533.8 575.2 L539.5 572.3 L547.1 572.3 L554.7 571.4 L562.3 569.5 L567.6 568.9 L567.6 576.1 L562.3 578 L556.6 579.9 L552.8 583.7 L545.2 585.6 L537.6 586.6 L530 587.5 L525.2 589.4 L521.4 588.5Z" fill="#30d0e8" />
<g clip-path="url(#cpE2)">
<path d="M520.5 583.7 L533.8 575.2 L547.1 571.4 L568 567.6 L568 571.4 L550.9 575.2 L537.6 578 L528.1 581.8Z" fill="#1c98f0" filter="url(#b1_5)"/>
<path d="M520.5 590.4 L522.4 583.7 L533.8 580.9 L547.1 579.9 L554.7 581.8 L545.2 586.6 L530 588.5Z" fill="#b8ec48" filter="url(#b1_5)"/>
</g>
<rect x="564.6" y="565.1" width="2.3" height="2.7" fill="#30dce8"/>
<rect x="571.8" y="570" width="1.9" height="2.3" fill="#30dce8"/>
<path d="M613.3 567 L616.6 564.7 L621.3 562.4 L623.6 563.2 L619.4 566.2 L614.7 568.5Z" fill="#ffbe18" />
<rect x="594.3" y="568.9" width="2.3" height="3" fill="#70eca0"/>
<rect x="596.6" y="573.3" width="4.2" height="2.3" fill="#90ec80"/>
<path d="M629.9 579.9 L634.6 578 L640.3 575.2 L642.3 572.3 L641.3 567.6 L644.2 565.7 L653.7 564.7 L662.2 562.8 L664.1 559 L667.9 556.7 L667 560.9 L672.7 561.9 L680.3 562.8 L684.1 559 L686 560.9 L691.7 560.5 L697.4 559.9 L701.6 559.4 L701.2 561.9 L695.5 565.7 L689.8 569.5 L684.1 574.2 L681.3 573.3 L680.3 570.4 L672.7 571.4 L665.1 572.3 L657.5 573.3 L651.8 576.1 L648 579.9 L645.1 582.8 L640.3 581.8 L634.6 583.7 L630.5 583.7Z" fill="#58e8c0" />
<g clip-path="url(#cpE5)">
<path d="M628.9 584.7 L630.8 579 L642.3 577.1 L653.7 571.4 L672.7 569.5 L684.1 571.4 L691.7 564.7 L702.2 558 L702.2 562.8 L684.1 575.2 L657.5 574.6 L646.1 583.7Z" fill="#c0ee44" filter="url(#b1_5)"/>
</g>
<path d="M668.9 554.2 L673.7 552.3 L680.3 549.9 L680.7 552.3 L675.6 554.2 L670.8 555.6Z" fill="#1c98f2" />
<rect x="638.1" y="567" width="2.6" height="2.5" fill="#e0e830"/>
<path d="M288.1 231.1 L289.9 228.5 L292.5 229.1 L294.1 232.4 L296.7 238.9 L293.3 242.8 L290.7 246.7 L288.1 251.9 L287.3 245.4Z" fill="#ffa818" />
<path d="M236.2 305.1 L240.1 302.5 L245.3 301.7 L251.8 301.7 L253.1 303.8 L249.9 307.7 L249.2 314.2 L254.3 316.8 L255.6 319.9 L250.5 324.1 L245.3 327.2 L246.6 331.1 L242.7 332.4 L238.8 328.5 L232.3 329.8 L228.4 331.1 L227.1 328.5 L233.6 325.9 L238.8 324.1 L238 319.4 L240.6 316.8 L238 311.6Z" fill="#ff3c08" />
</g>
<g id="grid">
<rect x="38" y="0" width="1118" height="1" fill="#000"/>
<rect x="175" y="0" width="1" height="791" fill="#000"/>
<rect x="385" y="0" width="1" height="791" fill="#000"/>
<rect x="595" y="0" width="1" height="791" fill="#000"/>
<rect x="805" y="0" width="1" height="791" fill="#000"/>
<rect x="1015" y="0" width="1" height="791" fill="#000"/>
<rect x="105" y="100" width="1051" height="1" fill="#000"/>
<rect x="105" y="300" width="1051" height="1" fill="#000"/>
<rect x="105" y="500" width="1051" height="1" fill="#000"/>
<rect x="105" y="700" width="1051" height="1" fill="#000"/>
<rect x="1155" y="0" width="1" height="801" fill="#000"/>
<rect x="175" y="795" width="1" height="6" fill="#000"/>
<rect x="245" y="795" width="1" height="6" fill="#000"/>
<rect x="315" y="795" width="1" height="6" fill="#000"/>
<rect x="385" y="795" width="1" height="6" fill="#000"/>
<rect x="455" y="795" width="1" height="6" fill="#000"/>
<rect x="525" y="795" width="1" height="6" fill="#000"/>
<rect x="595" y="795" width="1" height="6" fill="#000"/>
<rect x="665" y="795" width="1" height="6" fill="#000"/>
<rect x="735" y="795" width="1" height="6" fill="#000"/>
<rect x="805" y="795" width="1" height="6" fill="#000"/>
<rect x="875" y="795" width="1" height="6" fill="#000"/>
<rect x="945" y="795" width="1" height="6" fill="#000"/>
<rect x="1015" y="795" width="1" height="6" fill="#000"/>
<rect x="1085" y="795" width="1" height="6" fill="#000"/>
<rect x="1155" y="795" width="1" height="6" fill="#000"/>
<rect x="105" y="0" width="1" height="801" fill="#000"/>
<rect x="110" y="0" width="1" height="791" fill="#000"/>
<rect x="115" y="0" width="1" height="801" fill="#000"/>
<rect x="105" y="0" width="6" height="100" fill="#000"/>
<rect x="105" y="200" width="6" height="100" fill="#000"/>
<rect x="105" y="400" width="6" height="100" fill="#000"/>
<rect x="105" y="600" width="6" height="100" fill="#000"/>
<rect x="110" y="16" width="6" height="1" fill="#000"/>
<rect x="110" y="33" width="6" height="1" fill="#000"/>
<rect x="110" y="49" width="6" height="1" fill="#000"/>
<rect x="110" y="66" width="6" height="1" fill="#000"/>
<rect x="110" y="83" width="6" height="1" fill="#000"/>
<rect x="110" y="100" width="6" height="1" fill="#000"/>
<rect x="110" y="116" width="6" height="1" fill="#000"/>
<rect x="110" y="133" width="6" height="1" fill="#000"/>
<rect x="110" y="150" width="6" height="1" fill="#000"/>
<rect x="110" y="166" width="6" height="1" fill="#000"/>
<rect x="110" y="183" width="6" height="1" fill="#000"/>
<rect x="110" y="200" width="6" height="1" fill="#000"/>
<rect x="110" y="216" width="6" height="1" fill="#000"/>
<rect x="110" y="233" width="6" height="1" fill="#000"/>
<rect x="110" y="250" width="6" height="1" fill="#000"/>
<rect x="110" y="266" width="6" height="1" fill="#000"/>
<rect x="110" y="283" width="6" height="1" fill="#000"/>
<rect x="110" y="300" width="6" height="1" fill="#000"/>
<rect x="110" y="316" width="6" height="1" fill="#000"/>
<rect x="110" y="333" width="6" height="1" fill="#000"/>
<rect x="110" y="350" width="6" height="1" fill="#000"/>
<rect x="110" y="366" width="6" height="1" fill="#000"/>
<rect x="110" y="383" width="6" height="1" fill="#000"/>
<rect x="110" y="400" width="6" height="1" fill="#000"/>
<rect x="110" y="416" width="6" height="1" fill="#000"/>
<rect x="110" y="433" width="6" height="1" fill="#000"/>
<rect x="110" y="450" width="6" height="1" fill="#000"/>
<rect x="110" y="466" width="6" height="1" fill="#000"/>
<rect x="110" y="483" width="6" height="1" fill="#000"/>
<rect x="110" y="500" width="6" height="1" fill="#000"/>
<rect x="110" y="516" width="6" height="1" fill="#000"/>
<rect x="110" y="533" width="6" height="1" fill="#000"/>
<rect x="110" y="550" width="6" height="1" fill="#000"/>
<rect x="110" y="566" width="6" height="1" fill="#000"/>
<rect x="110" y="583" width="6" height="1" fill="#000"/>
<rect x="110" y="600" width="6" height="1" fill="#000"/>
<rect x="110" y="616" width="6" height="1" fill="#000"/>
<rect x="110" y="633" width="6" height="1" fill="#000"/>
<rect x="110" y="650" width="6" height="1" fill="#000"/>
<rect x="110" y="666" width="6" height="1" fill="#000"/>
<rect x="110" y="683" width="6" height="1" fill="#000"/>
<rect x="110" y="700" width="6" height="1" fill="#000"/>
<rect x="110" y="716" width="6" height="1" fill="#000"/>
<rect x="110" y="733" width="6" height="1" fill="#000"/>
<rect x="110" y="750" width="6" height="1" fill="#000"/>
<rect x="110" y="766" width="6" height="1" fill="#000"/>
<rect x="110" y="783" width="6" height="1" fill="#000"/>
<rect x="105" y="790" width="1051" height="1" fill="#000"/>
<rect x="115" y="795" width="1041" height="1" fill="#000"/>
<rect x="105" y="800" width="1051" height="1" fill="#000"/>
<rect x="115" y="795" width="60" height="6" fill="#000"/>
<rect x="245" y="795" width="70" height="6" fill="#000"/>
<rect x="385" y="795" width="70" height="6" fill="#000"/>
<rect x="525" y="795" width="70" height="6" fill="#000"/>
<rect x="665" y="795" width="70" height="6" fill="#000"/>
<rect x="805" y="795" width="70" height="6" fill="#000"/>
<rect x="945" y="795" width="70" height="6" fill="#000"/>
<rect x="1085" y="795" width="70" height="6" fill="#000"/>
<rect x="117" y="790" width="1" height="6" fill="#000"/>
<rect x="128" y="790" width="1" height="6" fill="#000"/>
<rect x="140" y="790" width="1" height="6" fill="#000"/>
<rect x="152" y="790" width="1" height="6" fill="#000"/>
<rect x="163" y="790" width="1" height="6" fill="#000"/>
<rect x="175" y="790" width="1" height="6" fill="#000"/>
<rect x="187" y="790" width="1" height="6" fill="#000"/>
<rect x="198" y="790" width="1" height="6" fill="#000"/>
<rect x="210" y="790" width="1" height="6" fill="#000"/>
<rect x="222" y="790" width="1" height="6" fill="#000"/>
<rect x="233" y="790" width="1" height="6" fill="#000"/>
<rect x="245" y="790" width="1" height="6" fill="#000"/>
<rect x="257" y="790" width="1" height="6" fill="#000"/>
<rect x="268" y="790" width="1" height="6" fill="#000"/>
<rect x="280" y="790" width="1" height="6" fill="#000"/>
<rect x="292" y="790" width="1" height="6" fill="#000"/>
<rect x="303" y="790" width="1" height="6" fill="#000"/>
<rect x="315" y="790" width="1" height="6" fill="#000"/>
<rect x="327" y="790" width="1" height="6" fill="#000"/>
<rect x="338" y="790" width="1" height="6" fill="#000"/>
<rect x="350" y="790" width="1" height="6" fill="#000"/>
<rect x="362" y="790" width="1" height="6" fill="#000"/>
<rect x="373" y="790" width="1" height="6" fill="#000"/>
<rect x="385" y="790" width="1" height="6" fill="#000"/>
<rect x="397" y="790" width="1" height="6" fill="#000"/>
<rect x="408" y="790" width="1" height="6" fill="#000"/>
<rect x="420" y="790" width="1" height="6" fill="#000"/>
<rect x="432" y="790" width="1" height="6" fill="#000"/>
<rect x="443" y="790" width="1" height="6" fill="#000"/>
<rect x="455" y="790" width="1" height="6" fill="#000"/>
<rect x="467" y="790" width="1" height="6" fill="#000"/>
<rect x="478" y="790" width="1" height="6" fill="#000"/>
<rect x="490" y="790" width="1" height="6" fill="#000"/>
<rect x="502" y="790" width="1" height="6" fill="#000"/>
<rect x="513" y="790" width="1" height="6" fill="#000"/>
<rect x="525" y="790" width="1" height="6" fill="#000"/>
<rect x="537" y="790" width="1" height="6" fill="#000"/>
<rect x="548" y="790" width="1" height="6" fill="#000"/>
<rect x="560" y="790" width="1" height="6" fill="#000"/>
<rect x="572" y="790" width="1" height="6" fill="#000"/>
<rect x="583" y="790" width="1" height="6" fill="#000"/>
<rect x="595" y="790" width="1" height="6" fill="#000"/>
<rect x="607" y="790" width="1" height="6" fill="#000"/>
<rect x="618" y="790" width="1" height="6" fill="#000"/>
<rect x="630" y="790" width="1" height="6" fill="#000"/>
<rect x="642" y="790" width="1" height="6" fill="#000"/>
<rect x="653" y="790" width="1" height="6" fill="#000"/>
<rect x="665" y="790" width="1" height="6" fill="#000"/>
<rect x="677" y="790" width="1" height="6" fill="#000"/>
<rect x="688" y="790" width="1" height="6" fill="#000"/>
<rect x="700" y="790" width="1" height="6" fill="#000"/>
<rect x="712" y="790" width="1" height="6" fill="#000"/>
<rect x="723" y="790" width="1" height="6" fill="#000"/>
<rect x="735" y="790" width="1" height="6" fill="#000"/>
<rect x="747" y="790" width="1" height="6" fill="#000"/>
<rect x="758" y="790" width="1" height="6" fill="#000"/>
<rect x="770" y="790" width="1" height="6" fill="#000"/>
<rect x="782" y="790" width="1" height="6" fill="#000"/>
<rect x="793" y="790" width="1" height="6" fill="#000"/>
<rect x="805" y="790" width="1" height="6" fill="#000"/>
<rect x="817" y="790" width="1" height="6" fill="#000"/>
<rect x="828" y="790" width="1" height="6" fill="#000"/>
<rect x="840" y="790" width="1" height="6" fill="#000"/>
<rect x="852" y="790" width="1" height="6" fill="#000"/>
<rect x="863" y="790" width="1" height="6" fill="#000"/>
<rect x="875" y="790" width="1" height="6" fill="#000"/>
<rect x="887" y="790" width="1" height="6" fill="#000"/>
<rect x="898" y="790" width="1" height="6" fill="#000"/>
<rect x="910" y="790" width="1" height="6" fill="#000"/>
<rect x="922" y="790" width="1" height="6" fill="#000"/>
<rect x="933" y="790" width="1" height="6" fill="#000"/>
<rect x="945" y="790" width="1" height="6" fill="#000"/>
<rect x="957" y="790" width="1" height="6" fill="#000"/>
<rect x="968" y="790" width="1" height="6" fill="#000"/>
<rect x="980" y="790" width="1" height="6" fill="#000"/>
<rect x="992" y="790" width="1" height="6" fill="#000"/>
<rect x="1003" y="790" width="1" height="6" fill="#000"/>
<rect x="1015" y="790" width="1" height="6" fill="#000"/>
<rect x="1027" y="790" width="1" height="6" fill="#000"/>
<rect x="1038" y="790" width="1" height="6" fill="#000"/>
<rect x="1050" y="790" width="1" height="6" fill="#000"/>
<rect x="1062" y="790" width="1" height="6" fill="#000"/>
<rect x="1073" y="790" width="1" height="6" fill="#000"/>
<rect x="1085" y="790" width="1" height="6" fill="#000"/>
<rect x="1097" y="790" width="1" height="6" fill="#000"/>
<rect x="1108" y="790" width="1" height="6" fill="#000"/>
<rect x="1120" y="790" width="1" height="6" fill="#000"/>
<rect x="1132" y="790" width="1" height="6" fill="#000"/>
<rect x="1143" y="790" width="1" height="6" fill="#000"/>
<rect x="1155" y="790" width="1" height="6" fill="#000"/>
</g>
<g id="coast" fill="none" stroke="#000" stroke-width="1" shape-rendering="crispEdges">
<path d="M290 245.3 L300.4 237.6 L313.4 228.5 L323.7 219.4 L334.1 209 L344.5 197.3 L352.3 186.9 L360.1 175.3 L366.6 164.9 L369.2 155.8 L366.6 149.3 L370.5 145.4 L378.2 142.8 L386 140.2 L396.4 138.4 L400.3 138.9"/>
<path d="M400 138.2 L406.2 139.7 L410.9 140.2 L414.8 137.4 L417.1 136.6 L418.7 133.5 L419.5 129.6 L420.2 127.3 L417.9 124.9 L415.6 122.6 L415.3 119.5 L416.4 123.4 L419.5 125.7 L422.6 123.4 L425.7 121 L427.3 117.1 L426.8 120.2 L424.1 124.1 L421.8 127.3 L421 131.1 L419.9 135 L419.5 137.4 L422.6 138.9 L424.1 137.4 L428 135.5 L432.7 135.8 L437.4 137.7 L442 138.6 L446.7 137.4 L449.1 135 L450.1 129.6 L449.5 125.7 L446.7 123.4 L446.4 120.2 L448.3 116.4 L452.2 113.2 L454.5 111.7 L454.8 114 L452.2 116.4 L450.6 120.2 L451.4 124.1 L453.7 127.3 L453.7 131.1 L454.5 135 L457.6 137.4 L461.5 138.9 L463.8 141.3 L465.4 144.4 L468.5 142.8 L473.2 141.3 L477.1 143.6 L477.9 146.7 L476 149.8 L479.4 150.6 L484.1 151.1 L486.4 151.9 L482.5 153.7 L478.6 154.2 L474.7 152.9 L471.6 151.4 L467 149.8 L462.3 150.6 L457.6 151.4 L452.9 150.1 L448.3 147.5 L443.6 146.4 L437.4 145.5 L431.1 145.9 L425.7 146.7 L423.4 144.4 L421.8 142 L423.4 145.9 L426.5 149.8 L430.4 154.5 L433.5 158.4 L436.6 161.5 L439.7 163.1 L436.6 160 L435 156.1 L435.5 152.9 L438.9 151.7 L445.2 152.9 L451.4 154.5 L456.8 156.1 L459.2 159.2 L458.4 162.3 L454.5 164.6 L449.8 166.2 L445.2 167.3 L440.5 168.2 L438.2 169.3 L437.4 171.6 L440.5 172.9 L445.2 172.4 L447.5 170.1 L449.8 170.9 L452.2 173.2 L455.3 175.5 L459.2 176 L462.3 177.9 L465.4 180.2 L469.3 181.8 L471.6 181 L472.4 186.4"/>
<path d="M425.7 174.7 L431.1 176.3 L440.5 179.4 L451.4 183.3 L462.3 186.4 L472.4 189.5 L482.5 192.7 L493.4 195 L502.8 196.9 L512.1 198.4 L521.5 199.3 L531.6 198.9 L524.6 197.3 L518.3 195.8 L515.2 194.2 L510.6 196.5"/>
<path d="M492.7 193.4 L496.5 190.3 L505.9 189.1 L515.2 189.5 L524.6 189.5 L528.5 188.8 L527.7 184.9 L530.8 187.2 L533.9 188 L537 184.9 L539.4 181 L540.9 180.2 L540.1 184.1 L542.5 185.6 L540.9 190.3 L544.8 189.5 L547.9 188.8 L549.5 191.9 L553.4 193.4 L555.7 197.3 L558.8 196.5 L561.9 193.4 L561.2 190.3 L564.3 187.2 L566.6 184.9 L569 188.8 L570.5 193.4 L569 199.7 L569.7 205.9 L574.4 206.7 L579.1 205.9 L576.7 209 L572.8 211.3 L573.6 216 L571.3 213.7 L568.2 212.1 L563.5 214.5 L558.8 216.8 L552.6 220.1"/>
<path d="M421.5 163.8 L421.5 168.5"/>
<path d="M431.9 176.3 L435 172.4 L437.4 168.5"/>
<path d="M433.9 157.6 L438.9 162.6" stroke-width="2"/>
<path d="M474.4 149.5 L477.9 152.2 L481 151.4" stroke-width="2"/>
<path d="M554.7 219.4 L546.9 222 L539.2 224.6 L536.6 222 L535.3 227.2 L528.8 231.1 L521 236.3 L513.2 241.4 L511.9 244 L506.7 246.6 L500.2 253.1 L493.7 258.3 L489.8 262.2 L491.1 266.1 L497.6 268.2 L505.4 266.1 L513.2 264 L521 265.6 L524.9 267.4 L528.8 272.6 L535.3 279.1 L543 285.6 L549.5 283 L554.7 281.7 L561.2 286.9 L565.1 293.4 L567.7 300.1"/>
<path d="M524.9 267.4 L531.4 261.4 L539.2 256.2" stroke-width="1.6"/>
<path d="M323.7 162.3 L328.9 160.2 L335.4 162.3 L338 168.8 L343.2 172.7 L345.8 177.9 L343.2 181.8 L345.8 186.9 L349.7 192.1 L347.6 192.9 L343.2 188.2 L340.6 182.5 L336.7 177.9 L330.2 175.3 L325 170.6 L322.4 166.2Z"/>
<path d="M332.8 163.6 L336.7 164.9 L337.2 170.1 L334.1 168Z"/>
<path d="M359.6 165.4 L362.7 168.8"/>
<path d="M301.7 231.1 L300.9 227.2 L305.6 225.1 L310.8 222 L312.1 217.3 L316 215.5 L319.8 216.8 L319.1 221.5 L322.4 218.1 L323.7 210.3 L325 219.9"/>
<path d="M290 218.1 L292.6 222 L292.1 229.8"/>
<path d="M311.4 229.8 L299.8 238.9 L290.7 247.2 L288.1 251.9 L293.3 253.2 L299.8 251.9 L301.1 255 L297.7 258.4 L297.2 267.5 L294.6 275.3 L290.7 279.2 L289.9 283.1 L294.6 284.3 L292 288.2 L290.7 299.9 L289.9 309 L288.1 316.8 L285.5 320.7 L279 318.1 L268.6 319.4 L258.2 321.5 L250.5 324.6 L244 329.8 L238.8 335 L234.9 341.4 L231 350.5 L225.8 360.9 L221.9 368.7 L219.8 376.5 L220.6 386.9 L221.9 400.1"/>
<path d="M288.1 231.1 L289.9 217.6 L292 219.5 L292.5 229.1 L294.1 232.4 L296.7 238.9 L293.3 242.8 L290.7 246.7 L288.1 251.9 L287.3 245.4Z"/>
<path d="M294.1 253.2 L298.5 254 L299.8 256.6 L295.9 257.6"/>
<path d="M292 270.1 L295.1 274 L293.3 277.9 L297.2 279.2"/>
<path d="M285.5 310.3 L288.1 314.2"/>
<path d="M236.2 305.1 L240.1 302.5 L245.3 301.7 L251.8 301.7 L253.1 303.8 L249.9 307.7 L249.2 314.2 L254.3 316.8 L255.6 319.9 L250.5 324.1 L245.3 327.2 L246.6 331.1 L242.7 332.4 L238.8 328.5 L232.3 329.8 L228.4 331.1 L227.1 328.5 L233.6 325.9 L238.8 324.1 L238 319.4 L240.6 316.8 L238 311.6Z"/>
<path d="M225.8 327.2 L229.7 332.4 L233.6 335 L237.5 332.9 L234.9 337.6 L231 336.3 L232.3 341.4 L229.2 345.3 L227.6 353.1 L231 347.9 L234.9 341.4"/>
<path d="M240 340 L235.8 345.3 L230.5 352.7 L226.2 361.2 L220.5 369.7 L219.9 378.2 L220.5 388.8 L222 401.5 L219.9 410 L216.7 420.6 L215.6 431.2 L217.7 439.7 L218.4 448.2 L215.6 455.6"/>
<path d="M228.4 342.1 L229.8 345.3 L227.7 348.5"/>
<path d="M213.5 419.6 L216.3 420.6"/>
<path d="M215.1 440 L217.7 446.5 L216.4 453 L211.2 459.5 L207.3 462.8 L200.8 459.5 L193.1 458.7 L185.3 460.2 L180.1 463.9 L178 471.1 L176.2 477.6 L171 480.2 L169.7 484.1 L171 490.6 L167.6 498.4 L167.1 504.9 L169.2 515.3 L168.4 528.2 L167.6 530.3 L158 530.3 L156.2 533.4 L158 535.5 L151.5 538.1 L149.4 541.2 L151 544.3 L142.4 545.1 L139.1 549 L137.3 554.2 L126.9 561.5 L130.8 559.9 L136 556.8 L141.1 554.7 L148.9 555.5 L152.8 559.4 L156.7 559.9 L155.4 564.6 L159.3 567.2 L160.6 571.1 L158 575 L161.9 578.9 L165.8 584 L171 590.5 L174.9 595.7 L178 600.9"/>
<path d="M178 600 L179.6 611.7 L175.4 612.5 L173.6 616.9 L177 624.7 L180.1 633.7 L185.3 641.5 L191.8 649.3 L200.8 655.8 L213.8 662.3 L226.8 668 L239.8 673.2 L247.6 675.8 L251.4 675.8 L254 677.9 L260.5 677.3 L270.9 679.2 L281.3 681.8 L291.7 683.6 L302.1 685.6 L312.4 686.9 L322.8 686.2 L330.6 683.6 L334.5 679.2 L338.4 681 L343.6 683.6 L354 686.9 L364.3 689.5 L374.7 692.1 L385.1 692.9 L395.5 691.4 L405.9 686.9 L410 683.6"/>
<path d="M251.4 676.6 L250.2 681.8 L248.9 686.9 L251.4 689.5 L248.9 693.4 L246.3 697.3 L243.7 698.6"/>
<path d="M253.3 677.9 L252.2 682.5 L250.9 686.9 L252.7 689.5 L250.7 693.4 L247.6 698.1"/>
<path d="M115.2 736.3 L121.7 732.4 L128.2 725.9 L134.7 718.1 L138.5 709 L141.1 703.3 L148.9 701.2 L156.7 699.1 L165.8 702.5 L172.3 703.8 L174.9 699.9 L180.1 695.5 L187.9 693.4 L198.2 694 L206 696.5 L211.2 699.9 L216.4 703.8 L224.2 704.3 L228.1 702.5 L233.3 705.1 L239.8 702.5 L243.7 698.6 L247.6 702.5 L251.4 706.4 L256.6 711.6 L261.8 715.5 L265.7 718.1 L268.8 722 L270.4 725.9 L276.1 724.6 L281.3 722 L289.1 723.3 L296.9 722 L303.4 724.6 L311.1 724.6 L311.9 727.7 L307.2 729.2 L300.8 727.2 L291.7 728.5 L286.5 731.1 L278.7 729.8 L272.2 732.4 L263.1 733.7 L252.7 735 L245 736.3 L238.5 740.2 L232 744 L229.4 747.4 L234.6 750.5 L239.8 753.1 L246.3 754.4 L252.7 753.1 L256.6 757 L251.4 759.6 L250.2 763.5 L242.4 764.8 L234.6 762.2 L228.1 763 L221.6 764.8 L213.8 762.2 L206 760.9 L198.2 759.6 L190.5 760.4 L182.7 761.4 L176.2 763.5 L172.3 765.6 L169.2 762.2 L173.6 758.8"/>
<path d="M154.1 749.2 L158 747.9 L165.8 748.5 L173.6 750 L178 753.1 L177 755.7 L172.3 758.8 L166.6 761.4 L161.9 763 L159.3 759.6 L156.2 754.4Z"/>
<path d="M166.6 761.4 L167.1 764.8 L161.9 766.1 L158 768.7 L151.5 768.2 L143.7 770 L136 767.4 L129.5 763.5 L126.9 755.7 L123 754.4 L115.2 757"/>
<path d="M142.4 736.3 L148.9 733.7 L155.4 735 L157.2 737.6 L152.8 741.4 L146.3 743.3 L142.4 740.2Z"/>
<path d="M137.3 745.3 L141.1 746.6 L139.8 750.5 L142.4 753.1 L138.5 749.2"/>
<path d="M143.7 747.9 L148.9 750.5 L151.5 755.7 L146.3 754.4 L145 750.5 L148.9 753.1Z"/>
<path d="M212.5 692.1 L215.1 696.5 L216.4 700.7"/>
<path d="M213.8 692.9 L215.9 698.6"/>
<path d="M245 713.7 L248.9 712.9 L251.4 715.5"/>
<path d="M248.9 710.3 L252.2 714.2 L255.3 715.5 L253.3 718.1"/>
<path d="M261.8 715.5 L264.4 717.3 L265.7 719.9"/>
<path d="M211.7 744 L213.3 746.6 L212 749.2"/>
<path d="M178.8 753.6 L182.7 754.4"/>
<path d="M400 689.8 L408.2 684.9 L413.1 676.7 L412.5 668.5 L423 663.6 L436.2 657 L449.3 648.8 L462.5 642.2 L470.7 632.3 L482.2 625.7 L495.3 618.5 L508.5 615.9 L521.6 611 L534.8 604.4 L544.6 599.4 L549.6 597.1 L557.8 599.4 L567.7 601.1 L577.5 601.7 L587.4 602.7 L597.2 601.7 L607.1 602.7 L617 605.4 L626.8 603.7 L630.1 602.1 L635 605.4 L644.9 606 L653.1 604.4 L658.1 599.4 L661.3 592.9 L663 590.2 L666.9 591.2 L669.6 595.5 L674.5 597.8 L678.8 596.8 L680.1 599.4 L674.5 600.1 L672.2 606 L674.5 614.2 L679.4 619.2 L682.7 625.7 L689.3 630.7 L697.5 635.6 L705.7 638.2 L715.6 635 L725.4 630.7 L732.7 626.7 L736.9 630.7 L741.9 637.3 L744.5 645.5 L743.5 653.7 L748.5 660.3 L753.4 665.2 L760 670.1 L764.2 675.7 L769.8 675.1 L776.4 670.1 L780 664.5"/>
<path d="M776 668.5 L779.3 664.5 L785.9 663.6 L794.1 665.9 L802.3 671.1 L806.2 675.1 L807.2 681 L813.8 684.9 L825.3 685.6 L831.9 689.8 L838.5 692.1 L841.7 697.4 L846.7 696.4 L851 689.8 L853.3 686.6 L856.5 688.9 L859.8 688.9 L860.8 694.8 L864.8 698.1 L868 702 L877.9 703 L887.8 705.3 L894.3 706.3 L900.9 709.6 L907.5 708.6 L912.4 709.6 L920.6 704 L923.9 706.3 L928.9 701.4 L937.1 698.1 L940.4 695.4 L946.9 696.4 L956.8 692.1 L963.4 697.4 L970 692.1 L974.9 689.8 L979.8 691.5 L983.8 695.4 L986.4 699.7 L993 699.7 L999.5 699.7 L1002.8 704 L1012.7 703 L1017.6 704 L1020.9 707.9 L1029.1 707.3 L1037.3 704 L1043.9 698.1 L1048.8 695.8 L1055.4 696.4 L1063.6 693.1 L1068.6 689.8 L1073.5 683.3 L1080.1 681.6 L1086.7 680 L1093.2 676.7 L1099.8 671.1 L1106.4 666.8 L1111.3 663.6 L1114.6 661.9 L1119.5 655.3 L1122.8 650.4 L1124.5 642.2 L1127.7 637.3 L1132.7 635 L1136 629 L1138.6 620.8 L1139.2 609.3 L1138.6 597.8 L1136 591.2 L1132.7 587.9 L1134.3 583 L1130.4 579.7 L1129.4 571.5 L1127.7 564.9 L1124.5 561.6"/>
<path d="M822.5 300.6 L827 308.1 L830 317.4 L833.7 324.9 L841.2 330.5 L848.7 333.2 L858 335.4 L861.8 332.4 L859.9 327.9 L864.4 328.7 L869.3 335.4 L867.4 339.2 L873 343.6 L878.6 342.9 L880.5 346.6 L884.2 351.1 L889.9 357.9 L899.2 361.6 L910.4 364.2 L919.8 368 L929.2 371 L934.8 378.1 L942.3 384.1 L947.9 388.6 L949.8 392.3 L957.2 399.8 L966.6 409.2 L974.1 416.7 L979.7 424.1 L987.2 431.6 L994.7 440.2 L1004 447.7 L1008.9 456 L1015.3 461.6 L1024.6 464.2 L1032.1 467.2 L1034 474.7 L1036.6 484 L1041.5 483.3 L1049 485.9 L1056.5 490.4 L1065.8 491.5 L1075.2 493.4 L1080.8 499 L1088.3 501.6 L1091.3 510.3 L1095.8 519.6 L1105.1 521.5 L1114.5 524.1 L1118.2 530.8 L1121.2 545.8 L1123.8 558.9 L1128.7 566.4 L1130.2 579.9"/>
<path d="M560 288 L564.2 291.2 L567.4 299.7 L568.5 308.2 L567.4 314.6 L564.2 319.9 L563.2 327.3 L562.5 337.9 L566.4 339 L561.1 340 L560 343.2"/>
<path d="M560 350.6 L566.4 351.7 L569.5 357 L575.9 360.2 L579.1 361.7 L587.6 360.2 L595 361.2 L602.4 359.1 L605.6 354.9 L607.7 350.6 L615.2 349.6 L617.3 345.3 L621.5 342.1 L623.7 335.8 L627.9 330.5 L634.3 326.2 L644.9 320.9 L653.4 319.9 L659.7 317.7 L664 316.7 L667.2 319.9 L671.4 321.4 L674.6 317.7 L676.3 312.4 L678.8 309.3 L684.1 305 L688.4 303.5 L691.6 301.8 L692.6 295.5 L696.9 291.2 L702.2 288 L708.5 288 L714.9 290.2 L720.2 294.4 L723 298.6 L727.6 299.7 L734 298.6 L738.2 296.5 L744.6 297.2 L752 297.6 L759.5 295 L766.9 291.2 L766.9 285.9 L764.1 280.2"/>
<path d="M562.4 336.3 L563.3 338.9 L553.6 342.4 L553.6 345 L556.3 347.6 L559.8 350.2 L565.9 351.1 L569.4 354.6 L571.1 358.1 L575.5 360"/>
<path d="M553.6 342.4 L560.6 340.6 L566.2 339.6"/>
<path d="M695.5 271.1 L702.4 269.4 L712.4 266.9 L719.9 262.4 L723.7 256.1 L724.9 253.6 L727.4 254.9 L728.7 258.6 L732.4 262.4 L738.7 261.9 L742.4 257.4 L744.9 253.6 L751.1 252.9 L757.4 252.4 L764.9 254.4"/>
<path d="M740 255.4 L744.2 253.4 L750.4 252.3 L756.6 251.8 L760.8 252.3 L764.9 254.4 L769.1 254.4 L772.2 256.5 L774.3 258 L776.3 256.5 L778.4 257.5 L778.9 260.1 L780.5 262.2 L780 263.7 L776.3 264.3 L772.2 264.8 L769.6 265.3 L769.1 266.9 L771.1 268.4 L769.1 270 L766 270.5 L764.4 272.6 L763.7 275.7 L763.4 279.8 L764.1 282.9 L764.9 286.1 L766.5 288.7 L767.8 290.7 L766.5 292.8 L762.8 294.4 L757.6 295.4 L752.5 295.9"/>
<path d="M804.9 267.4 L802.3 267.6 L799.2 268.4 L796.1 269.4 L792.9 270.5 L791.4 268.9 L790.3 266.3 L789.3 263.2 L788.8 260.1 L789.8 257.5 L792.9 256 L796.6 256.5 L800.2 258 L804.4 260.1 L808.5 262.2 L812.7 263.7 L815.8 265.8 L818.9 266.9 L825.1 267.2 L831.4 266.3 L837.6 264.8 L842.3 262.2 L844.8 259.1 L846.4 254.9 L846.9 248.7 L847.1 240.4 L848 235.2 L850 232.1 L854.2 230.8 L858.3 230.5"/>
<path d="M804.9 267.4 L804.6 271.5 L801.2 272.6 L798.1 274.1 L794 275.7 L788.8 277.2 L783.6 278.3 L779.4 279.3 L777.6 280.9 L777.9 283.5 L780 286.1 L783.6 288.1 L788.8 289.4 L794 290 L799.2 291.2 L804.4 293.3 L809.6 295.4 L814.7 298 L819.9 300.1"/>
<path d="M809.3 274.6 L809.3 273.1 L811.1 270.5 L812.7 267.9 L814.7 266.3"/>
<path d="M809.3 274.6 L811.6 276.2 L815.8 275.7 L818.9 274.1 L822 271.5 L825.1 270 L827.7 271 L826.7 272.6 L823 272 L819.9 273.6 L818.9 274.1"/>
<path d="M779.4 269.4 L785.7 264.8" stroke-width="2"/>
<path d="M771.1 271.5 L775.8 276.2" stroke-width="2"/>
<path d="M790.3 263.4 L793.5 263 L791.9 264.8 L790.7 265.1Z" fill="#000"/>
<path d="M810.6 272.6 L813.2 268.2 L813.9 272.6Z" fill="#000"/>
<path d="M859.8 228.7 L861.1 226.2 L864.8 219.9 L867.3 212.4 L868.5 204.9 L872.3 202.4 L877.3 197.4 L881 194.9 L882.3 204.9 L884.8 202.4 L886 192.4 L889.8 187.4 L892.8 183.7 L894.8 175 L889.8 167.5 L884.8 162.5 L879.8 160.5 L874.8 161.2 L873.5 165 L869.8 162.5 L864.8 152.5 L861.1 142.5 L858.6 135 L854.8 131.2"/>
<path d="M892.3 178.7 L899.8 183.7 L908.5 188.7 L914.8 192.4 L916.8 196.2 L911 196.9 L902.3 191.2 L894.8 186.2Z"/>
<path d="M650.9 184.1 L654.1 193.7 L658.4 208.5 L663.7 223.4 L670 238.2 L678.5 253.1 L687 265.8 L694.4 275.4 L696.6 272.6 L693.4 270.1"/>
<path d="M649.9 185.2 L652 197.9 L655.6 212.8 L660.5 225.5 L665.8 236.1 L671.1 245.6 L673.2 252 L671.1 255.2 L667.5 256.9 L664.7 260.5 L663.2 263.3 L665.8 264.7 L670 264.1 L669 259.9 L667.5 257.3"/>
<path d="M639.3 184.1 L642.4 182 L647.7 183.1 L650.9 185.6 L649.2 189.4 L645.6 191.5 L642.4 190.5 L639.9 187.3Z"/>
<path d="M640.3 188.4 L639.3 193.7 L637.1 199 L634 201.1 L629.7 202.1 L627.6 206.4 L628.6 209.6 L631.8 208.5 L634 205.3 L637.1 204.3 L639.3 207.5 L637.1 211.7 L632.9 213.8 L629.7 217 L630.8 220.2 L635 219.1 L639.3 215.9 L642.4 213.8 L645.6 214.9 L643.5 219.1 L639.3 222.3 L636.1 225.5 L635 228 L638.2 227.2 L642.4 224.4 L646.7 221.2 L649.9 220.2 L648.8 224.4 L644.6 228.7 L641.4 231.9 L644.6 231.4 L649.9 227.6 L653.1 225.5 L654.7 228.7 L652 234 L654.1 233.6 L657.3 229.7 L660.5 231.9 L663.7 234"/>
<path d="M643.5 193.7 L645.6 197.9 L647.7 202.1 L649.9 200 L650.9 195.8"/>
<path d="M647.7 205.3 L650.9 208.5 L653.1 213.8 L655.6 217 L654.1 210.6 L652 206.4"/>
<path d="M644.6 200 L646.7 203.2"/>
<path d="M651.2 184.9 L653.7 178.6 L659.9 176.1 L667.4 174.4 L674.9 169.9 L681.2 164.9 L683.7 158.7 L681.9 152.4 L679.4 147.4 L680.4 146.9 L683.7 153.7 L685.4 159.9 L684.9 164.9 L688.7 166.2 L693.7 159.9 L698.7 156.2 L704.9 152.9 L712.4 147.4 L719.9 141.2 L727.4 136.2 L734.9 133.7 L743.6 133.2 L749.9 133.7 L753.6 137.4 L752.4 142.4 L748.6 147.4 L744.4 151.2 L747.4 148.7 L752.4 142.4 L756.1 134.9 L761.1 128.7 L769.8 125.4 L778.6 122.9 L786.1 122.4 L791.1 126.2 L792.3 132.4 L789.8 136.2 L787.8 136.9 L791.8 133.7 L794.8 126.2 L798.6 119.9 L803.6 113.7 L811.1 110 L817.3 107 L823.5 105.5 L827.3 108.7 L826 113.7 L829.8 110 L834.8 102.5 L838.5 96.2 L843.5 91.2 L849.8 91.2 L859.8 90 L869.8 89.5 L880 88"/>
<path d="M664.4 190.4 L666.2 186.9 L672.4 184.4 L678.7 182.4 L683.7 174.9 L687.4 167.4 L688.7 164.9 L686.2 171.1 L683.7 177.4 L679.9 182.9 L674.9 187.4 L668.7 191.1Z"/>
<path d="M837.9 98.9 L844.4 91.8 L854.1 90.8 L863.8 91.8 L871.9 89.9 L880.1 89.2 L884.9 92.4 L881.7 97.3 L888.2 90.8 L896.3 87.6 L904.4 85.3 L909.9 82.1 L910.9 86.6 L919 85.3 L928.7 82.7 L937.8 80.1 L941.7 74.6 L949.8 72.3 L957.9 71.4 L963.8 74.6 L961.8 79.5 L964.4 86 L963.8 92.4 L967.7 96.3 L962.8 98.3 L954.7 96.3 L948.2 99.6 L941.7 103.8 L935.2 108 L928.7 111.3 L919 112.6 L910.9 113.5 L905.4 117.8 L902.8 123.3 L904.4 129.8 L894.7 128.1 L888.2 131.4 L880.1 135.3 L870.3 136.2 L860.6 134 L854.7 129.8"/>
<path d="M902.8 124.9 L910.9 124.2 L917.4 128.1 L915.7 134 L907.6 136.2 L899.5 134 L896.3 128.8Z"/>
<path d="M893.7 111.9 L896.9 113.5"/>
</g>
<g id="colorbar">
<defs><linearGradient id="cb" x1="0" y1="0" x2="0" y2="1"><stop offset="0.0000" stop-color="#a80000"/><stop offset="0.0417" stop-color="#cc0000"/><stop offset="0.0833" stop-color="#ff0000"/><stop offset="0.1333" stop-color="#ff4000"/><stop offset="0.2133" stop-color="#ff8000"/><stop offset="0.2950" stop-color="#ffc800"/><stop offset="0.3383" stop-color="#ffff00"/><stop offset="0.3950" stop-color="#80ff70"/><stop offset="0.4367" stop-color="#30ffd0"/><stop offset="0.4783" stop-color="#00f0ff"/><stop offset="0.5550" stop-color="#0090ff"/><stop offset="0.6600" stop-color="#0040ff"/><stop offset="0.7083" stop-color="#0000ff"/><stop offset="0.7400" stop-color="#4000ff"/><stop offset="0.8183" stop-color="#9000ff"/><stop offset="0.9217" stop-color="#d800ff"/><stop offset="1.0000" stop-color="#ff00ff"/></linearGradient></defs>
<rect x="38" y="0" width="29" height="601" fill="#000"/>
<rect x="39" y="1" width="27" height="599" fill="url(#cb)"/>
<rect x="69" y="0" width="1" height="601" fill="#000"/>
<rect x="66" y="600" width="4" height="1" fill="#000"/>
<rect x="70" y="16" width="5" height="1" fill="#000"/>
<text x="79.8" y="21.8" class="cbl">50</text>
<rect x="70" y="80" width="5" height="1" fill="#000"/>
<text x="79.8" y="85.8" class="cbl">20</text>
<rect x="70" y="128" width="5" height="1" fill="#000"/>
<text x="79.8" y="133.8" class="cbl">10</text>
<rect x="70" y="177" width="5" height="1" fill="#000"/>
<text x="79.8" y="182.8" class="cbl">5</text>
<rect x="70" y="237" width="5" height="1" fill="#000"/>
<text x="79.8" y="242.8" class="cbl">2</text>
<rect x="70" y="285" width="5" height="1" fill="#000"/>
<text x="79.8" y="290.8" class="cbl">1</text>
<rect x="70" y="333" width="5" height="1" fill="#000"/>
<text x="79.8" y="338.8" class="cbl">0.5</text>
<rect x="70" y="396" width="5" height="1" fill="#000"/>
<text x="79.8" y="401.8" class="cbl">0.2</text>
<rect x="70" y="444" width="5" height="1" fill="#000"/>
<text x="79.8" y="449.8" class="cbl">0.1</text>
<rect x="70" y="490" width="5" height="1" fill="#000"/>
<text x="76.5" y="495.8" class="cbl">0.05</text>
<rect x="70" y="552" width="5" height="1" fill="#000"/>
<text x="76.5" y="557.8" class="cbl">0.02</text>
<text x="76.5" y="597.5" class="cbl">0.01</text>
<text transform="translate(28,463) rotate(-90)" class="vlab">Chlor_a concentration, mg·m<tspan dy="-5.5" style="font-size:14.5px;letter-spacing:0">-3</tspan></text>
</g>
<g id="labels">
<text x="119.5" y="96" class="gl2">47</text>
<text x="119.5" y="296" class="gl2">45</text>
<text x="119.5" y="496" class="gl2">43</text>
<text x="119.5" y="696" class="gl2">41</text>
<text x="181.2" y="786" class="gl">28</text>
<text x="391.2" y="786" class="gl">31</text>
<text x="601.2" y="786" class="gl">34</text>
<text x="811.2" y="786" class="gl">37</text>
<text x="1021.2" y="786" class="gl">40</text>
<text x="654" y="36" class="hd">MODIS-AQUA</text>
<text x="654" y="56" class="hd">3 Mar 2026</text>
<text x="654" y="76" class="hd">12:30 GMT</text>
<text x="234" y="90.5" class="oc">OceanColor</text>
<text x="1051.5" y="94" class="mhi" textLength="69.5" lengthAdjust="spacing">MHI RAS</text>
</g>
<g id="logos">
<g shape-rendering="auto">
<circle cx="279.2" cy="43" r="29.2" fill="#0000ff"/>
<ellipse cx="279.7" cy="42.1" rx="22.6" ry="6.2" transform="rotate(51.7 279.7 42.1)" fill="none" stroke="#fff" stroke-width="0.8"/>
<rect x="273.2" y="17.9" width="1" height="1" fill="#fff"/>
<rect x="277.2" y="15.7" width="1" height="1" fill="#fff"/>
<rect x="278.9" y="18.2" width="1" height="1" fill="#fff"/>
<rect x="283.1" y="17.1" width="2" height="2" fill="#fff"/>
<rect x="281.9" y="20.7" width="1" height="1" fill="#fff"/>
<rect x="267.0" y="26.0" width="1" height="1" fill="#fff"/>
<rect x="268.8" y="27.2" width="1" height="1" fill="#fff"/>
<rect x="299.9" y="52.9" width="2" height="2" fill="#fff"/>
<rect x="297.2" y="57.2" width="1" height="1" fill="#fff"/>
<rect x="291.1" y="54.1" width="1" height="1" fill="#fff"/>
<rect x="294.2" y="51.9" width="1" height="1" fill="#fff"/>
<rect x="259.8" y="57.3" width="1" height="1" fill="#fff"/>
<rect x="257.6" y="58.2" width="1" height="1" fill="#fff"/>
<rect x="266.0" y="61.6" width="1" height="1" fill="#fff"/>
<rect x="269.1" y="60.9" width="1" height="1" fill="#fff"/>
<rect x="269.0" y="66.1" width="2" height="2" fill="#fff"/>
<rect x="268.2" y="63.2" width="1" height="1" fill="#fff"/>
<rect x="281.1" y="59.8" width="1" height="1" fill="#fff"/>
<path d="M243.98 49.7 L257.46 45.58 L276.19 39.71 L294.93 31.84 L307.41 24.73 L313.91 19.98 L306.16 27.72 L294.93 35.21 L282.44 41.21 L269.95 45.58 L257.46 48.08 L244.98 50.95Z" fill="#ff0000"/>
<path d="M254.34 68.43 L263.71 59.69 L276.19 50.57 L289.93 41.83 L302.42 32.22 L313.91 19.98 L307.41 29.97 L297.42 39.71 L284.94 48.95 L272.45 56.82 L262.46 63.94 L256.21 68.43Z" fill="#ff0000"/>
<text x="252" y="50" textLength="51" lengthAdjust="spacingAndGlyphs" style="font-family:'Liberation Serif',serif;font-weight:bold;font-size:19.5px;fill:#fff">NASA</text>
<clipPath id="cpSw"><rect x="289" y="0" width="40" height="100"/></clipPath>
<path d="M243.98 49.7 L257.46 45.58 L276.19 39.71 L294.93 31.84 L307.41 24.73 L313.91 19.98 L306.16 27.72 L294.93 35.21 L282.44 41.21 L269.95 45.58 L257.46 48.08 L244.98 50.95Z" fill="#ff0000" clip-path="url(#cpSw)"/>
</g>
<g shape-rendering="auto" fill="none" stroke="#000" stroke-width="1">
<circle cx="1085.4" cy="43" r="35.4"/>
<path d="M1052.85 40.83 L1070.21 40.83 L1070.21 22.48 L1076.83 38.96 L1080.95 28.47 L1080.95 40.83" />
<path d="M1080.95 28.47 L1092.44 28.47" />
<path d="M1084.95 28.47 L1084.95 49.95" />
<path d="M1092.44 28.47 L1092.44 40.83 L1102.43 23.1 L1102.43 40.83 L1118.66 40.83" />
<path d="M1052.85 40.83 L1078.08 66.81" />
<path d="M1118.66 40.83 L1093.69 66.81" />
<path d="M1059.97 47.45 L1081.82 47.45" />
<path d="M1088.69 47.45 L1111.17 47.45" />
<path d="M1059.97 47.45 L1066.96 52.95 L1069.71 54.7 L1072.46 52.82 L1074.96 51.2 L1077.45 52.82 L1079.95 54.7 L1082.45 53.45 L1084.45 50.2 L1084.45 61.19 L1080.57 66.81 L1078.08 66.81Z" fill="#000"/>
<path d="M1111.17 47.45 L1104.18 52.95 L1101.43 54.7 L1098.68 52.82 L1096.18 51.2 L1093.69 52.82 L1091.19 54.7 L1088.69 53.45 L1085.69 50.2 L1085.69 61.19 L1091.19 66.81 L1093.69 66.81Z" fill="#000"/>
</g>
<g shape-rendering="auto" fill="none" stroke="#fff" stroke-width="0.9">
<path d="M1066.96 54.95 L1069.71 56.94 L1072.46 55.07 L1074.96 53.45 L1077.45 55.07 L1079.95 56.94 L1082.45 55.69 L1084.07 52.95" />
<path d="M1104.18 54.95 L1101.43 56.94 L1098.68 55.07 L1096.18 53.45 L1093.69 55.07 L1091.19 56.94 L1088.69 55.69 L1086.07 52.95" />
</g>
</g>
</svg>
</body></html>
